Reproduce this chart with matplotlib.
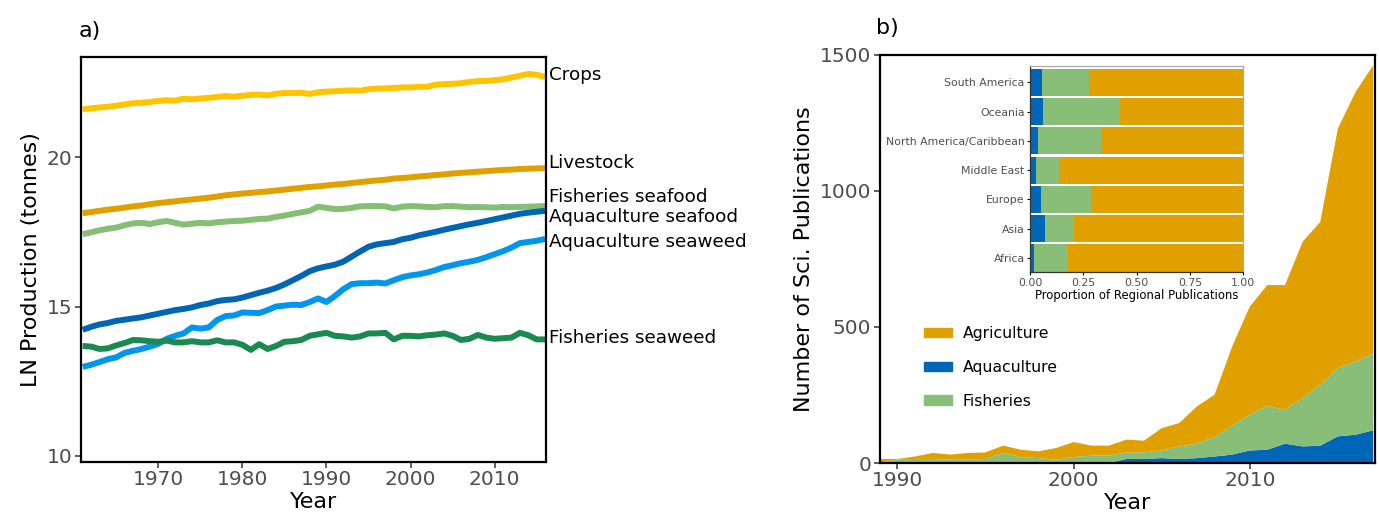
import matplotlib
matplotlib.use("Agg")
import matplotlib.pyplot as plt
from matplotlib.patches import Patch

# ---- panel a: LN production, 1961-2016 ----
years_a = list(range(1961, 2017))
crops = [21.60, 21.63, 21.66, 21.68, 21.72, 21.76, 21.80, 21.82, 21.84, 21.88,
         21.90, 21.89, 21.95, 21.93, 21.96, 21.98, 22.01, 22.04, 22.02, 22.05,
         22.08, 22.09, 22.06, 22.12, 22.14, 22.14, 22.15, 22.11, 22.17, 22.19,
         22.20, 22.22, 22.23, 22.22, 22.27, 22.29, 22.30, 22.31, 22.33, 22.33,
         22.35, 22.35, 22.42, 22.44, 22.45, 22.47, 22.51, 22.54, 22.55, 22.57,
         22.60, 22.66, 22.72, 22.78, 22.75, 22.68]
livestock = [18.12, 18.16, 18.20, 18.24, 18.27, 18.31, 18.35, 18.38, 18.42, 18.46,
             18.49, 18.52, 18.55, 18.58, 18.61, 18.64, 18.68, 18.72, 18.75, 18.78,
             18.80, 18.83, 18.85, 18.88, 18.91, 18.94, 18.97, 19.00, 19.02, 19.05,
             19.08, 19.10, 19.13, 19.16, 19.19, 19.22, 19.24, 19.28, 19.30, 19.32,
             19.35, 19.37, 19.40, 19.42, 19.45, 19.47, 19.49, 19.51, 19.53, 19.55,
             19.57, 19.58, 19.60, 19.61, 19.62, 19.63]
fish_seafood = [17.42, 17.48, 17.55, 17.60, 17.64, 17.72, 17.78, 17.80, 17.76, 17.82,
                17.86, 17.80, 17.74, 17.77, 17.80, 17.78, 17.82, 17.84, 17.86, 17.87,
                17.90, 17.93, 17.94, 18.00, 18.04, 18.10, 18.15, 18.20, 18.34, 18.30,
                18.26, 18.27, 18.30, 18.35, 18.36, 18.36, 18.35, 18.28, 18.34, 18.36,
                18.35, 18.33, 18.32, 18.36, 18.36, 18.34, 18.32, 18.33, 18.32, 18.31,
                18.33, 18.32, 18.33, 18.34, 18.35, 18.36]
aqua_seafood = [14.22, 14.32, 14.40, 14.45, 14.52, 14.56, 14.60, 14.64, 14.70, 14.76,
                14.82, 14.88, 14.92, 14.97, 15.05, 15.10, 15.18, 15.22, 15.24, 15.30,
                15.38, 15.46, 15.53, 15.62, 15.74, 15.88, 16.02, 16.18, 16.28, 16.34,
                16.40, 16.50, 16.67, 16.84, 17.00, 17.08, 17.12, 17.16, 17.25, 17.30,
                17.38, 17.44, 17.50, 17.57, 17.63, 17.69, 17.75, 17.80, 17.86, 17.92,
                17.98, 18.04, 18.10, 18.14, 18.17, 18.20]
aqua_seaweed = [12.98, 13.05, 13.14, 13.24, 13.30, 13.45, 13.52, 13.58, 13.66, 13.75,
                13.92, 14.02, 14.10, 14.30, 14.26, 14.30, 14.55, 14.68, 14.70, 14.80,
                14.79, 14.78, 14.88, 15.00, 15.03, 15.06, 15.05, 15.15, 15.27, 15.15,
                15.35, 15.58, 15.75, 15.78, 15.78, 15.80, 15.77, 15.88, 15.98, 16.04,
                16.08, 16.14, 16.22, 16.32, 16.38, 16.45, 16.50, 16.56, 16.65, 16.75,
                16.85, 16.97, 17.12, 17.16, 17.20, 17.26]
fish_seaweed = [13.68, 13.66, 13.58, 13.60, 13.70, 13.78, 13.88, 13.87, 13.84, 13.82,
                13.86, 13.80, 13.80, 13.84, 13.80, 13.80, 13.87, 13.80, 13.80, 13.72,
                13.55, 13.74, 13.58, 13.68, 13.82, 13.84, 13.88, 14.02, 14.07, 14.12,
                14.02, 14.00, 13.96, 14.00, 14.10, 14.10, 14.12, 13.90, 14.02, 14.02,
                14.00, 14.04, 14.06, 14.10, 14.02, 13.88, 13.92, 14.05, 13.96, 13.92,
                13.94, 13.96, 14.12, 14.04, 13.90, 13.90]
series_names = ["Crops", "Livestock", "Fisheries seafood", "Aquaculture seafood",
                "Aquaculture seaweed", "Fisheries seaweed"]

# ---- panel b: publications, 1989-2017 ----
pub_years = list(range(1989, 2018))
aquaculture_pubs = [0, 0, 0, 0, 0, 0, 0, 0, 0, 0, 0, 0, 0, 0,
                    15, 15, 18, 15, 18, 24, 31, 46, 49, 71, 61, 64, 98, 104, 120]
fisheries_pubs = [0, 13, 15, 15, 12, 12, 15, 37, 22, 18, 12, 22, 27, 27,
                  24, 24, 28, 46, 53, 71, 106, 131, 161, 125, 177, 223, 250, 269, 281]
agriculture_pubs = [15, 2, 9, 22, 19, 25, 24, 27, 27, 25, 43, 55, 37, 37,
                    47, 43, 82, 86, 137, 156, 291, 398, 444, 458, 575, 599, 881, 990, 1060]

# ---- inset: regional proportions ----
regions = ["Africa", "Asia", "Europe", "Middle East", "North America/Caribbean",
           "Oceania", "South America"]
aqua_share = [0.016, 0.070, 0.052, 0.028, 0.036, 0.060, 0.055]
fish_share = [0.162, 0.135, 0.234, 0.108, 0.297, 0.360, 0.223]
agri_share = [0.822, 0.795, 0.714, 0.864, 0.667, 0.580, 0.722]

line_cols = ["#FFC400", "#E0A000", "#84BF75", "#0066B3", "#0096EE", "#1A8A50"]
label_y = [22.74, 19.80, 18.66, 18.00, 17.16, 13.95]
c_agri, c_aqua, c_fish = "#E0A000", "#0066B8", "#88BE78"
tick_grey = "#4D4D4D"

fig = plt.figure(figsize=(13.79, 5.22), dpi=100)

# panel a
ax1 = fig.add_axes([0.0587, 0.115, 0.3372, 0.776])
for vals, col in zip([crops, livestock, fish_seafood, aqua_seafood, aqua_seaweed, fish_seaweed], line_cols):
    ax1.plot(years_a, vals, color=col, lw=4.3, solid_capstyle="butt")
for name, yy in zip(series_names, label_y):
    ax1.annotate(name, xy=(1.006, yy), xycoords=("axes fraction", "data"),
                 va="center", ha="left", fontsize=13.2, annotation_clip=False)
ax1.set_xlim(1960.8, 2016.1)
ax1.set_ylim(9.8, 23.35)
ax1.set_xticks([1970, 1980, 1990, 2000, 2010])
ax1.set_yticks([10, 15, 20])
ax1.set_xlabel("Year", fontsize=16, labelpad=2)
ax1.set_ylabel("LN Production (tonnes)", fontsize=16)
ax1.text(-0.005, 1.065, "a)", transform=ax1.transAxes, fontsize=16, ha="left", va="center")

# panel b
ax2 = fig.add_axes([0.638, 0.113, 0.359, 0.782])
ax2.stackplot(pub_years, aquaculture_pubs, fisheries_pubs, agriculture_pubs,
              colors=[c_aqua, c_fish, c_agri], lw=0)
ax2.set_xlim(1989, 2017.1)
ax2.set_ylim(0, 1500)
ax2.set_xticks([1990, 2000, 2010])
ax2.set_yticks([0, 500, 1000, 1500])
ax2.set_xlabel("Year", fontsize=16, labelpad=2)
ax2.set_ylabel("Number of Sci. Publications", fontsize=16)
ax2.text(-0.008, 1.065, "b)", transform=ax2.transAxes, fontsize=16, ha="left", va="center")
handles = [Patch(color=c_agri), Patch(color=c_aqua), Patch(color=c_fish)]
ax2.legend(handles, ["Agriculture", "Aquaculture", "Fisheries"], loc="upper left",
           bbox_to_anchor=(0.06, 0.37), frameon=False, fontsize=11.3,
           handlelength=1.8, handleheight=0.55, labelspacing=1.2, handletextpad=0.7)

for ax in (ax1, ax2):
    for s in ax.spines.values():
        s.set_linewidth(1.6)
        s.set_color("black")
    ax.tick_params(direction="out", length=4, width=1.1, color="#333333",
                   labelcolor=tick_grey, labelsize=14.5, pad=2)

# inset
ax3 = fig.add_axes([0.747, 0.479, 0.1545, 0.3946])
ax3.barh(regions, aqua_share, height=0.93, color=c_aqua)
ax3.barh(regions, fish_share, left=aqua_share, height=0.93, color=c_fish)
left_agri = [a + f for a, f in zip(aqua_share, fish_share)]
ax3.barh(regions, agri_share, left=left_agri, height=0.93, color=c_agri)
ax3.set_xlim(0, 1)
ax3.set_ylim(-0.48, 6.56)
ax3.set_xticks([0, 0.25, 0.5, 0.75, 1.0])
ax3.set_xticklabels(["0.00", "0.25", "0.50", "0.75", "1.00"])
ax3.set_xlabel("Proportion of Regional Publications", fontsize=8.4, labelpad=1)
ax3.tick_params(direction="out", length=2.5, width=0.8, labelsize=7.8,
                labelcolor=tick_grey, pad=1.5)
for side, s in ax3.spines.items():
    s.set_linewidth(0.9)
    s.set_color("#333333" if side in ("left", "bottom") else "#AAAAAA")

fig.savefig("out.png", dpi=100)
